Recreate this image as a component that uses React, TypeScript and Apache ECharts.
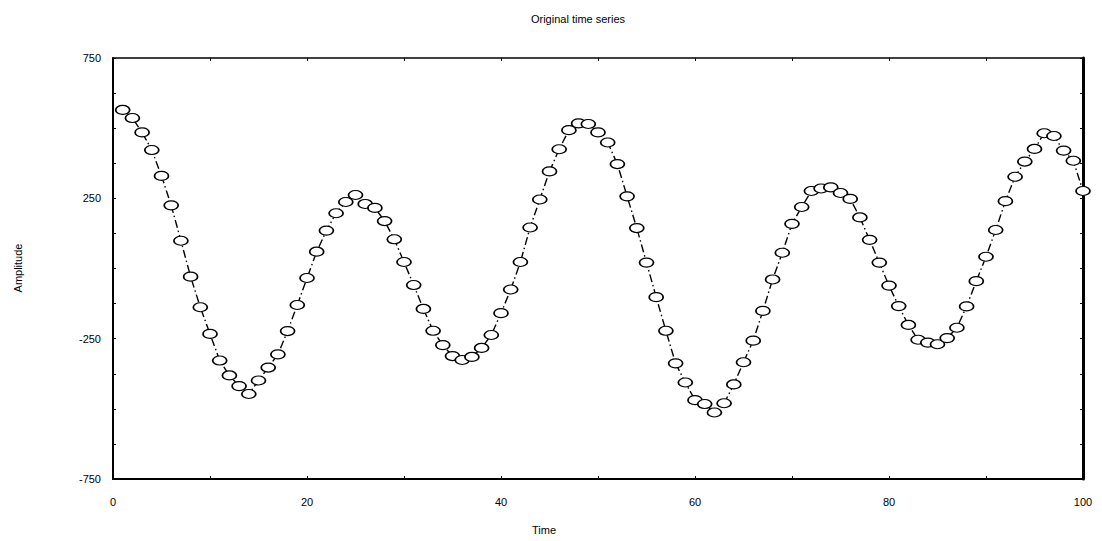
import React, { useEffect, useRef } from "react";
import * as echarts from "echarts";

const times: number[] = Array.from({ length: 100 }, (_, i) => i + 1);
const amplitude: number[] = [
  565, 536, 485, 422, 330, 225, 99, -29, -138, -233,
  -328, -381, -419, -447, -399, -353, -306, -223, -130, -34,
  60, 135, 197, 237, 262, 230, 216, 169, 104, 23,
  -59, -144, -222, -273, -312, -326, -315, -283, -237, -159,
  -75, 23, 146, 246, 346, 425, 493, 517, 515, 485,
  449, 372, 257, 144, 21, -102, -222, -338, -406, -469,
  -483, -513, -480, -413, -334, -257, -151, -39, 56, 159,
  219, 276, 285, 289, 269, 248, 182, 102, 21, -61,
  -134, -201, -254, -264, -270, -248, -211, -135, -45, 42,
  137, 240, 327, 381, 426, 482, 472, 420, 384, 276,
];
const xLabelValues: number[] = [0, 20, 40, 60, 80, 100];
const yLabelValues: number[] = [-750, -250, 250, 750];

const titleText = "Original time series";
const xName = "Time";
const yName = "Amplitude";

const FONT = "'Liberation Sans', Arial, Helvetica, sans-serif";
const ellipse =
  "path://M0,1 C0,0.45 0.45,0 1,0 C1.55,0 2,0.45 2,1 C2,1.55 1.55,2 1,2 C0.45,2 0,1.55 0,1 Z";

export default function App() {
  const ref = useRef<HTMLDivElement>(null);
  useEffect(() => {
    if (!ref.current) return;
    const chart = echarts.init(ref.current, null, { renderer: "svg" });
    const labelStyle = { color: "#000", fontFamily: FONT, fontSize: 11 };
    chart.setOption({
      animation: false,
      backgroundColor: "#fff",
      grid: { left: 113, right: 19, top: 58, bottom: 62, containLabel: false },
      graphic: [
        {
          type: "text",
          x: 578,
          y: 19,
          style: { text: titleText, fill: "#000", font: `11px ${FONT}`, textAlign: "center", textVerticalAlign: "middle" },
        },
        {
          type: "text",
          x: 544,
          y: 530,
          style: { text: xName, fill: "#000", font: `11px ${FONT}`, textAlign: "center", textVerticalAlign: "middle" },
        },
        {
          type: "text",
          x: 18,
          y: 268,
          rotation: Math.PI / 2,
          style: { text: yName, fill: "#000", font: `11px ${FONT}`, textAlign: "center", textVerticalAlign: "middle" },
        },
      ],
      xAxis: [
        {
          type: "value",
          position: "bottom",
          min: 0,
          max: 100,
          interval: 10,
          axisLine: { show: true, onZero: false, lineStyle: { color: "#000", width: 2 } },
          axisTick: { show: true, inside: true, length: 3, lineStyle: { color: "#000", width: 1 } },
          axisLabel: {
            ...labelStyle,
            margin: 17,
            formatter: (v: number) => (xLabelValues.includes(v) ? String(v) : ""),
          },
          splitLine: { show: false },
        },
        {
          type: "value",
          position: "top",
          min: 0,
          max: 100,
          interval: 10,
          axisLine: { show: true, onZero: false, lineStyle: { color: "#000", width: 1.5 } },
          axisTick: { show: true, inside: true, length: 3, lineStyle: { color: "#000", width: 1 } },
          axisLabel: { show: false },
          splitLine: { show: false },
        },
      ],
      yAxis: [
        {
          type: "value",
          position: "left",
          min: -750,
          max: 750,
          interval: 125,
          axisLine: { show: true, onZero: false, lineStyle: { color: "#000", width: 2 } },
          axisTick: { show: true, inside: true, length: 3, lineStyle: { color: "#000", width: 1 } },
          axisLabel: {
            ...labelStyle,
            margin: 12,
            formatter: (v: number) => (yLabelValues.includes(v) ? String(v) : ""),
          },
          splitLine: { show: false },
        },
        {
          type: "value",
          position: "right",
          min: -750,
          max: 750,
          interval: 125,
          axisLine: { show: true, onZero: false, lineStyle: { color: "#000", width: 3 } },
          axisTick: { show: true, inside: true, length: 3, lineStyle: { color: "#000", width: 1 } },
          axisLabel: { show: false },
          splitLine: { show: false },
        },
      ],
      series: [
        {
          type: "line",
          xAxisIndex: 0,
          yAxisIndex: 0,
          data: times.map((t, i) => [t, amplitude[i]]),
          symbol: ellipse,
          symbolSize: [14, 9],
          showAllSymbol: true,
          clip: false,
          lineStyle: { color: "#000", width: 1.4, type: [8, 3, 1.5, 3] },
          itemStyle: { color: "#fff", borderColor: "#000", borderWidth: 1.4 },
        },
      ],
    });
    return () => chart.dispose();
  }, []);
  return (
    <div
      ref={ref}
      style={{ position: "fixed", left: 0, top: 0, width: 1102, height: 541, background: "#fff" }}
    />
  );
}
